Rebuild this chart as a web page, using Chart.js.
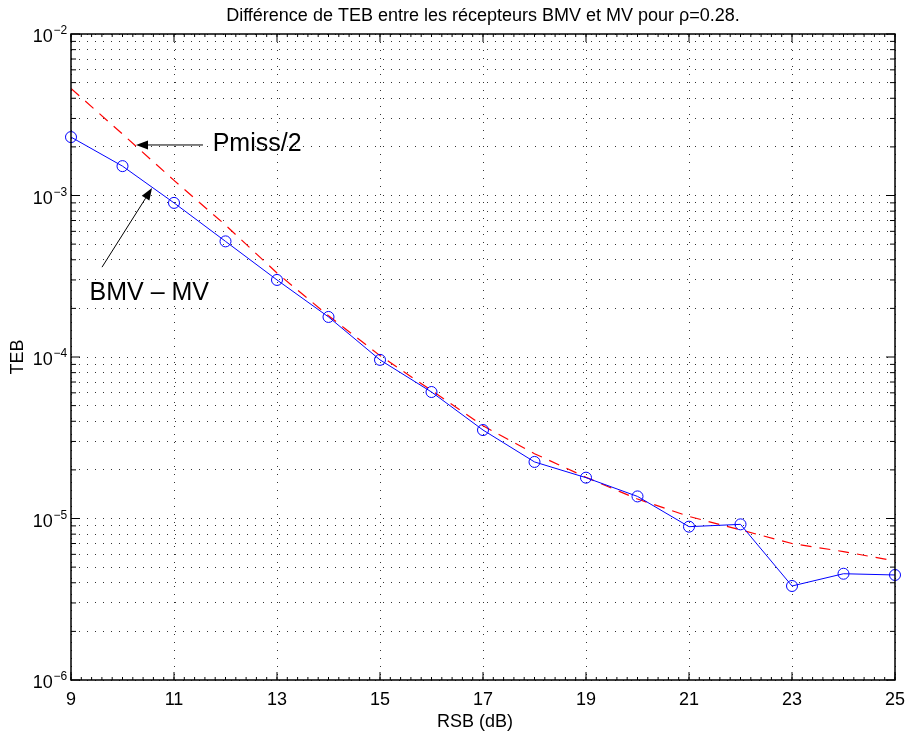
<!DOCTYPE html>
<html>
<head>
<meta charset="utf-8">
<script src="https://cdn.jsdelivr.net/npm/chart.js@4"></script>
<style>
  body { margin: 0; background: #fff; }
  canvas { display: block; }
</style>
</head>
<body>
<canvas id="teb-chart" width="905" height="736"></canvas>
<script>
/* Data */
let rsbValues = [9, 10, 11, 12, 13, 14, 15, 16, 17, 18, 19, 20, 21, 22, 23, 24, 25]
let tebBmvMv = [2.30e-3, 1.52e-3, 9.0e-4, 5.2e-4, 3.0e-4, 1.77e-4, 9.6e-5, 6.07e-5, 3.53e-5, 2.24e-5, 1.79e-5, 1.37e-5, 8.9e-6, 9.2e-6, 3.82e-6, 4.55e-6, 4.47e-6]
let pmissHalf = [4.6e-3, 2.4e-3, 1.24e-3, 6.56e-4, 3.31e-4, 1.8e-4, 1.02e-4, 6.2e-5, 3.75e-5, 2.52e-5, 1.8e-5, 1.32e-5, 1.03e-5, 8.5e-6, 7.0e-6, 6.24e-6, 5.46e-6]

// tick labels
let xTickValues = [9, 11, 13, 15, 17, 19, 21, 23, 25]
let yDecades = [1e-2, 1e-3, 1e-4, 1e-5, 1e-6]

let titleText = 'Différence de TEB entre les récepteurs BMV et MV pour ρ=0.28.'
let xTitle = 'RSB (dB)'

// text + arrows, in data coordinates
let labelTexts = ['Pmiss/2', 'BMV \u2013 MV']
let labelPoints = [[11.75, 1.894e-3], [9.36, 2.254e-4]]
let arrowTails = [[11.563, 2.055e-3], [9.602, 3.6e-4]]
let arrowTips = [[10.262, 2.055e-3], [10.573, 1.112e-3]]

// log grid lines: 1..9 x each decade
let yGridValues = []
yDecades.forEach(function (d) {
    for (let k = 1; k <= 9; k++) {
        let v = d * k
        if (v <= 1e-2 + 1e-12) yGridValues.push(v)
    }
})

let fontFamily = '"Liberation Sans", Arial, Helvetica, sans-serif'
Chart.defaults.font.family = fontFamily
Chart.defaults.color = '#000'

// Box, inner ticks, y labels with exponents, titles and the two annotations
let matlabFrame = {
    id: 'matlabFrame',
    afterDraw(chart) {
        let ctx = chart.ctx
        let a = chart.chartArea
        let x = chart.scales.x
        let y = chart.scales.y
        let midX = (a.left + a.right) / 2
        ctx.save()

        ctx.strokeStyle = '#000'
        ctx.lineWidth = 1
        ctx.beginPath()
        xTickValues.forEach(function (v) {
            let px = x.getPixelForValue(v)
            ctx.moveTo(px, a.bottom); ctx.lineTo(px, a.bottom - 8)
            ctx.moveTo(px, a.top); ctx.lineTo(px, a.top + 8)
        })
        for (let i = 0; i <= 80; i++) {
            let px = x.getPixelForValue(9 + i * 0.2)
            ctx.moveTo(px, a.bottom); ctx.lineTo(px, a.bottom - 3)
            ctx.moveTo(px, a.top); ctx.lineTo(px, a.top + 3)
        }
        yGridValues.forEach(function (v) {
            let py = y.getPixelForValue(v)
            let len = yDecades.some(d => Math.abs(d - v) < d * 1e-6) ? 9 : 5
            ctx.moveTo(a.left, py); ctx.lineTo(a.left + len, py)
            ctx.moveTo(a.right, py); ctx.lineTo(a.right - len, py)
        })
        ctx.stroke()

        ctx.lineWidth = 1.5
        ctx.strokeRect(a.left, a.top, a.right - a.left, a.bottom - a.top)

        ctx.fillStyle = '#000'

        // title and x label, centred on the plot box like MATLAB
        ctx.font = '18px ' + fontFamily
        ctx.textAlign = 'center'
        ctx.textBaseline = 'alphabetic'
        ctx.fillText(titleText, midX, 20.7)
        ctx.fillText(xTitle, midX - 8, 726.5)

        // y tick labels 10^k
        yDecades.forEach(function (d) {
            let py = y.getPixelForValue(d)
            let exp = Math.round(Math.log10(d))
            ctx.font = '18px ' + fontFamily
            ctx.textAlign = 'right'
            ctx.fillText('10', a.left - 18.3, py + 8)
            ctx.font = '12px ' + fontFamily
            ctx.textAlign = 'left'
            ctx.fillText((exp < 0 ? '\u2212' : '') + Math.abs(exp), a.left - 17.5, py)
        })

        // arrows
        ctx.lineWidth = 1
        for (let i = 0; i < arrowTails.length; i++) {
            let x0 = x.getPixelForValue(arrowTails[i][0]), y0 = y.getPixelForValue(arrowTails[i][1])
            let x1 = x.getPixelForValue(arrowTips[i][0]), y1 = y.getPixelForValue(arrowTips[i][1])
            let ang = Math.atan2(y1 - y0, x1 - x0)
            let hl = 12, hw = 4.5
            let bx = x1 - hl * Math.cos(ang), by = y1 - hl * Math.sin(ang)
            ctx.beginPath()
            ctx.moveTo(x0, y0); ctx.lineTo(bx, by)
            ctx.stroke()
            ctx.beginPath()
            ctx.moveTo(x1, y1)
            ctx.lineTo(bx + hw * Math.sin(ang), by - hw * Math.cos(ang))
            ctx.lineTo(bx - hw * Math.sin(ang), by + hw * Math.cos(ang))
            ctx.closePath()
            ctx.fill()
        }

        // annotation texts
        ctx.font = '25px ' + fontFamily
        ctx.textAlign = 'left'
        labelTexts.forEach(function (t, i) {
            ctx.fillText(t, x.getPixelForValue(labelPoints[i][0]), y.getPixelForValue(labelPoints[i][1]))
        })

        ctx.restore()
    }
}

let ctx = document.querySelector('#teb-chart').getContext('2d')

let tebChart = new Chart(ctx, {
    type: 'line',
    data: {
        datasets: [
            {
                label: 'BMV - MV',
                data: rsbValues.map((v, i) => ({ x: v, y: tebBmvMv[i] })),
                borderColor: '#0000ff',
                borderWidth: 1,
                pointStyle: 'circle',
                pointRadius: 5.5,
                pointBorderWidth: 1,
                pointBorderColor: '#0000ff',
                pointBackgroundColor: 'rgba(0,0,0,0)',
                tension: 0,
                clip: false
            },
            {
                label: 'Pmiss/2',
                data: rsbValues.map((v, i) => ({ x: v, y: pmissHalf[i] })),
                borderColor: '#ff0000',
                borderWidth: 1.2,
                borderDash: [11, 8],
                pointRadius: 0,
                tension: 0
            }
        ]
    },
    options: {
        responsive: false,
        animation: false,
        layout: { padding: { left: 0, right: 10, top: 34, bottom: 0 } },
        plugins: {
            legend: { display: false },
            tooltip: { enabled: false },
            title: { display: false }
        },
        scales: {
            x: {
                type: 'linear',
                min: 9,
                max: 25,
                afterBuildTicks: s => { s.ticks = xTickValues.map(v => ({ value: v })) },
                afterFit: s => { s.height = 56; s.paddingLeft = 0; s.paddingRight = 0 },
                ticks: { color: '#000', font: { size: 18 }, padding: 9, maxRotation: 0, autoSkip: false },
                grid: { color: 'rgba(0,0,0,0.8)', lineWidth: 1, drawTicks: false },
                border: { display: false, dash: [1, 7] },
                title: { display: false }
            },
            y: {
                type: 'logarithmic',
                min: 1e-6,
                max: 1e-2,
                afterBuildTicks: s => { s.ticks = yGridValues.map(v => ({ value: v })) },
                afterFit: s => { s.width = 71; s.paddingTop = 0; s.paddingBottom = 0 },
                ticks: { display: false },
                grid: { color: 'rgba(0,0,0,0.8)', lineWidth: 1, drawTicks: false },
                border: { display: false, dash: [1, 7] },
                title: { display: true, text: 'TEB', color: '#000', font: { size: 18 }, padding: { top: 7, bottom: 0 } }
            }
        }
    },
    plugins: [matlabFrame]
})
</script>
</body>
</html>
